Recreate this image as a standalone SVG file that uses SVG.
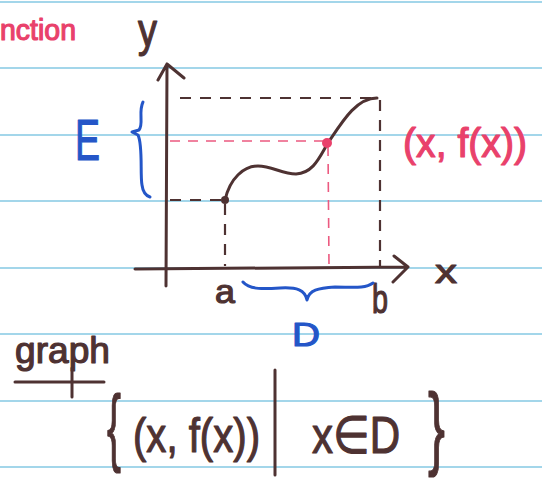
<svg xmlns="http://www.w3.org/2000/svg" width="542" height="481" viewBox="0 0 542 481">
<defs>
<style>
.rule{stroke:#a3d6ea;stroke-width:2}
.ink{stroke:#4e3232;fill:none;stroke-width:3;stroke-linecap:round;stroke-linejoin:round}
.dash{stroke:#4e3232;fill:none;stroke-width:2.2;stroke-dasharray:11 9}
.rdash{stroke:#ec5a80;fill:none;stroke-width:1.6;stroke-dasharray:10 8}
.blue{stroke:#2456c8;fill:none;stroke-width:3;stroke-linecap:round;stroke-linejoin:round}
.t{font-family:"Liberation Sans","DejaVu Sans",sans-serif;stroke-width:1.2;stroke-linejoin:round}
.tk{fill:#4e3232;stroke:#4e3232}
.tr{fill:#e9416b;stroke:#e9416b}
.tb{fill:#2456c8;stroke:#2456c8}
</style>
</defs>
<rect width="542" height="481" fill="#ffffff"/>
<g id="rules">
<line class="rule" x1="0" y1="2" x2="542" y2="2"/>
<line class="rule" x1="0" y1="68" x2="542" y2="68"/>
<line class="rule" x1="0" y1="135" x2="542" y2="135"/>
<line class="rule" x1="0" y1="201" x2="542" y2="201"/>
<line class="rule" x1="0" y1="268" x2="542" y2="268"/>
<line class="rule" x1="0" y1="334" x2="542" y2="334"/>
<line class="rule" x1="0" y1="401" x2="542" y2="401"/>
<line class="rule" x1="0" y1="467" x2="542" y2="467"/>
</g>
<g id="heading">
<text class="t tr" x="0" y="40" font-size="30" textLength="76" lengthAdjust="spacingAndGlyphs">nction</text>
</g>
<g id="axes">
<path class="ink" d="M166,286 L167,64 M158,80 L167,64 L184,78"/>
<path class="ink" d="M135,269 L408,267 M394,256 L408,267 L393,282"/>
<text class="t tk" x="138" y="46" font-size="46" textLength="19" lengthAdjust="spacingAndGlyphs">y</text>
<text class="t tk" x="435" y="283" font-size="34" textLength="22" lengthAdjust="spacingAndGlyphs">x</text>
<text class="t tk" x="215" y="303" font-size="34" textLength="20" lengthAdjust="spacingAndGlyphs">a</text>
<text class="t tk" x="372" y="313" font-size="40" textLength="16" lengthAdjust="spacingAndGlyphs">b</text>
</g>
<g id="guides">
<path class="dash" d="M180,98 L378,98 M380,100 L380,266"/>
<path class="dash" d="M170,200 L225,200 M225,204 L225,266"/>
<path class="rdash" d="M170,141 L325,141 M328,146 L329,266"/>
</g>
<g id="curve">
<path class="ink" d="M225,200 C230,178 244,166 258,166 C272,166 282,174 296,174 C314,173 320,156 328,143 C342,122 356,98 377,98"/>
<circle cx="225" cy="200" r="4" fill="#4e3232"/>
<circle cx="327" cy="143" r="5" fill="#e9416b"/>
</g>
<g id="point-label">
<text class="t tr" x="403" y="157" font-size="40" textLength="124" lengthAdjust="spacingAndGlyphs">(x, f(x))</text>
</g>
<g id="range-E">
<path class="blue" d="M143,102 C138,112 144,124 139,130 L132,132 L138,135 C143,145 140,175 142,185 C143,193 147,196 150,197"/>
<text class="t tb" x="75" y="160" font-size="58" textLength="25" lengthAdjust="spacingAndGlyphs">E</text>
</g>
<g id="domain-D">
<path class="blue" d="M243,282 C250,290 265,289 280,288 C297,287 305,290 307,300 C309,290 318,288 335,287 C352,287 365,289 373,283"/>
<text class="t tb" x="292" y="346" font-size="33" textLength="28" lengthAdjust="spacingAndGlyphs">D</text>
</g>
<g id="graph-def">
<text class="t tk" x="15" y="363" font-size="36" textLength="95" lengthAdjust="spacingAndGlyphs">graph</text>
<path class="ink" d="M15,382 L104,382 M72,368 L72,397"/>
<text class="t tk" x="107" y="455" font-size="86" textLength="14" lengthAdjust="spacingAndGlyphs">{</text>
<text class="t tk" x="133" y="452" font-size="48" textLength="127" lengthAdjust="spacingAndGlyphs">(x, f(x))</text>
<path class="ink" d="M275,370 L275,475"/>
<text class="t tk" x="312" y="453" font-size="52" textLength="88" lengthAdjust="spacingAndGlyphs">x∈D</text>
<text class="t tk" x="428" y="458" font-size="92" textLength="17" lengthAdjust="spacingAndGlyphs">}</text>
</g>
</svg>
